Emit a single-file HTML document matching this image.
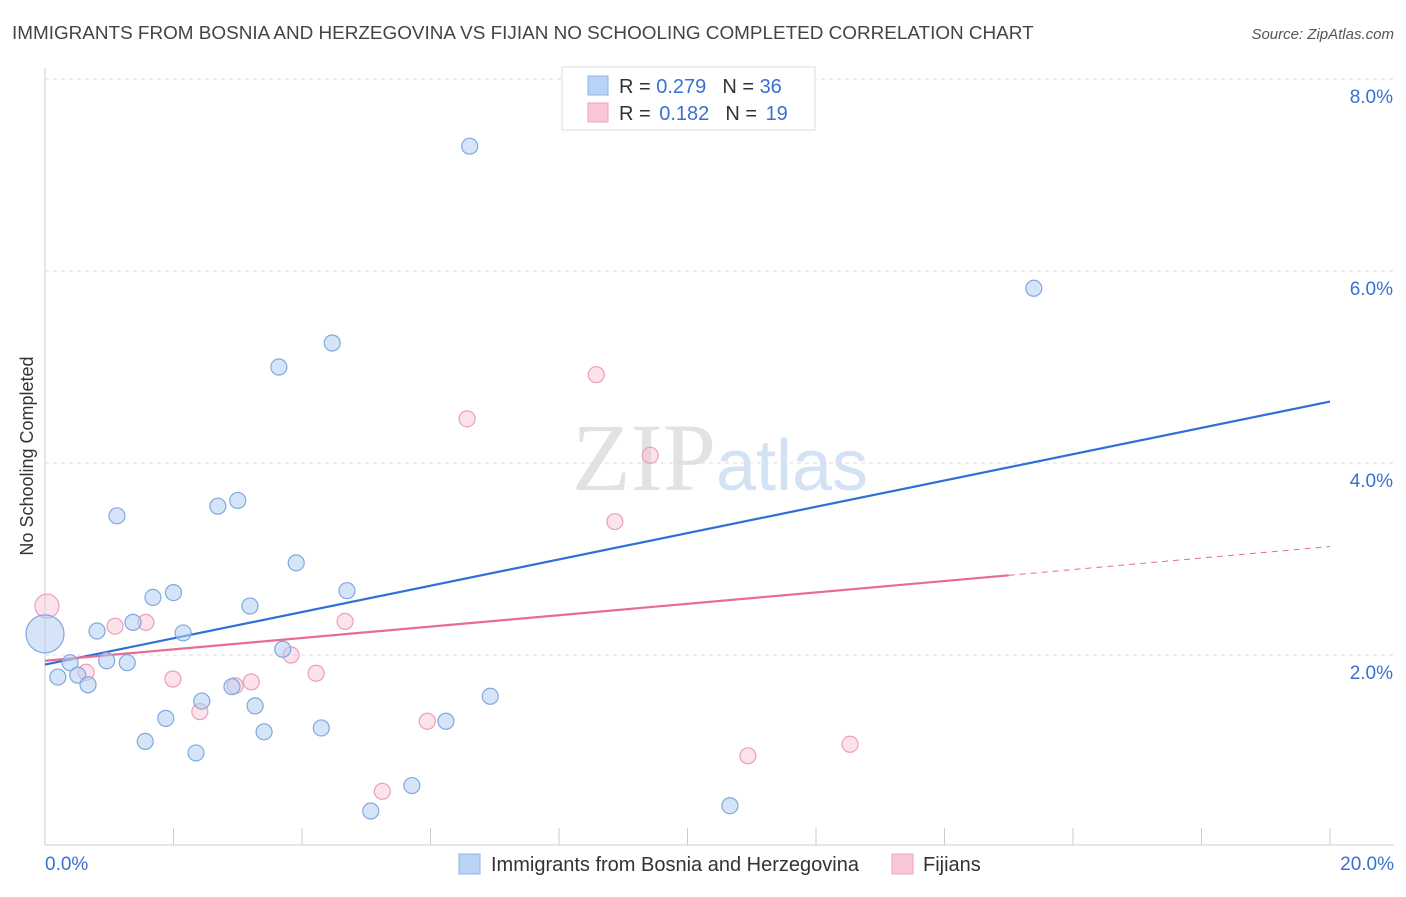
<!DOCTYPE html>
<html><head><meta charset="utf-8"><style>
body{margin:0;background:#fff;font-family:"Liberation Sans",sans-serif;}
svg text{font-family:"Liberation Sans",sans-serif;}
</style></head><body>
<svg id="chart" width="1406" height="892" xmlns="http://www.w3.org/2000/svg">
<text x="12" y="39" font-size="18.9" fill="#444">IMMIGRANTS FROM BOSNIA AND HERZEGOVINA VS FIJIAN NO SCHOOLING COMPLETED CORRELATION CHART</text>
<text x="1394" y="39" font-size="15" fill="#555" text-anchor="end" font-style="italic">Source: ZipAtlas.com</text>
<text transform="translate(33,456) rotate(-90)" font-size="18" fill="#333" text-anchor="middle">No Schooling Completed</text>
<text x="720" y="490" font-size="96" text-anchor="middle"><tspan fill="#e2e2e2" font-family="Liberation Serif">ZIP</tspan><tspan fill="#d3e2f5" font-size="72">atlas</tspan></text>
<g id="grid"></g><g id="axes"></g><g id="lines"></g><g id="points"></g>
<g>
<rect x="562" y="67" width="253" height="63" fill="#fff" stroke="#ddd"/>
<rect x="588" y="76" width="20" height="19" fill="#b8d3f5" stroke="#8fb4e6"/>
<rect x="588" y="103" width="20" height="19" fill="#f9c6d5" stroke="#eea3bb"/>
<text x="619" y="93" font-size="20" fill="#333">R = <tspan fill="#3a70d0">0.279</tspan><tspan dx="16">N = </tspan><tspan fill="#3a70d0">36</tspan></text>
<text x="619" y="120" font-size="20" fill="#333">R = <tspan fill="#3a70d0" dx="3">0.182</tspan><tspan dx="16">N = </tspan><tspan fill="#3a70d0" dx="3">19</tspan></text>
</g>
<g>
<rect x="459" y="854" width="21" height="20" fill="#b8d3f5" stroke="#8fb4e6"/>
<text x="491" y="871" font-size="20" fill="#333">Immigrants from Bosnia and Herzegovina</text>
<rect x="892" y="854" width="21" height="20" fill="#f9c6d5" stroke="#eea3bb"/>
<text x="923" y="871" font-size="20" fill="#333">Fijians</text>
</g>
</svg>
<script>
const blueX=[6.61,15.39,4.47,3.64,1.12,2.69,3.0,3.91,4.70,1.68,2.0,3.19,1.37,0.81,2.15,0,0.39,0.96,1.28,0.51,0.2,0.67,3.70,2.91,2.44,3.27,1.88,6.24,6.93,4.30,3.41,1.56,2.35,5.71,5.07,10.66];
const blueY=[7.30,5.82,5.25,5.0,3.45,3.55,3.61,2.96,2.67,2.60,2.65,2.51,2.34,2.25,2.23,2.22,1.92,1.94,1.92,1.79,1.77,1.69,2.06,1.67,1.52,1.47,1.34,1.31,1.57,1.24,1.20,1.10,0.98,0.64,0.375,0.43];
const pinkX=[8.58,6.57,9.42,8.87,0.03,1.09,1.57,4.67,3.83,0.64,1.99,4.22,2.96,3.21,2.41,5.95,5.25,10.94,12.53];
const pinkY=[4.92,4.46,4.08,3.39,2.51,2.30,2.34,2.35,2.0,1.82,1.75,1.81,1.68,1.72,1.41,1.31,0.58,0.95,1.07];
const yTicks=[2,4,6,8];
const blueTrend=[[0,1.90],[20,4.64]];
const pinkTrend=[[0,1.94],[15,2.83],[20,3.13]];
const NS="http://www.w3.org/2000/svg";
const sx=v=>45+v*64.25, sy=v=>847-v*96;
function mk(tag,attrs,parent){const e=document.createElementNS(NS,tag);for(const k in attrs)e.setAttribute(k,attrs[k]);document.getElementById(parent).appendChild(e);return e;}
yTicks.forEach(t=>{
 const l=mk('line',{x1:45,x2:1394,y1:sy(t),y2:sy(t),stroke:'#ddd','stroke-dasharray':'4,4'},'grid');
 
 
 const tx=mk('text',{x:1393,y:sy(t)+24,'font-size':19,fill:'#3a70d0','text-anchor':'end'},'grid');
 tx.textContent=t.toFixed(1)+'%';
 
 
});
mk('line',{x1:45,x2:45,y1:68,y2:845,stroke:'#ccc'},'axes');
mk('line',{x1:45,x2:1394,y1:845,y2:845,stroke:'#ccc'},'axes');
for(let i=0;i<=10;i++){const x=sx(i*2);const t=mk('line',{x1:x,x2:x,y1:828,y2:845,stroke:'#ccc'},'axes');}
let a=mk('text',{x:45,y:870,'font-size':19,fill:'#3a70d0'},'axes');a.textContent='0.0%';


a=mk('text',{x:1394,y:870,'font-size':19,fill:'#3a70d0','text-anchor':'end'},'axes');a.textContent='20.0%';


let bl=mk('line',{x1:sx(blueTrend[0][0]),y1:sy(blueTrend[0][1]),x2:sx(blueTrend[1][0]),y2:sy(blueTrend[1][1]),stroke:'#2f6fd6','stroke-width':2.2},'lines');


let pl=mk('line',{x1:sx(pinkTrend[0][0]),y1:sy(pinkTrend[0][1]),x2:sx(pinkTrend[1][0]),y2:sy(pinkTrend[1][1]),stroke:'#e86b93','stroke-width':2.2},'lines');


let pd=mk('line',{x1:sx(pinkTrend[1][0]),y1:sy(pinkTrend[1][1]),x2:sx(pinkTrend[2][0]),y2:sy(pinkTrend[2][1]),stroke:'#e86b93','stroke-width':1,'stroke-dasharray':'6,5'},'lines');


pinkX.forEach((x,i)=>{const r=(x<0.1)?12:8;const c=mk('circle',{cx:sx(x),cy:sy(pinkY[i]),r:r,fill:'rgba(248,190,208,0.45)',stroke:'#eaa0b8','stroke-width':1.2},'points');
 
 });
blueX.forEach((x,i)=>{const r=(x<0.05)?19:8;const c=mk('circle',{cx:sx(x),cy:sy(blueY[i]),r:r,fill:'rgba(180,206,243,0.55)',stroke:'#7fa8e0','stroke-width':1.2},'points');
 
 });
</script>
</body></html>
